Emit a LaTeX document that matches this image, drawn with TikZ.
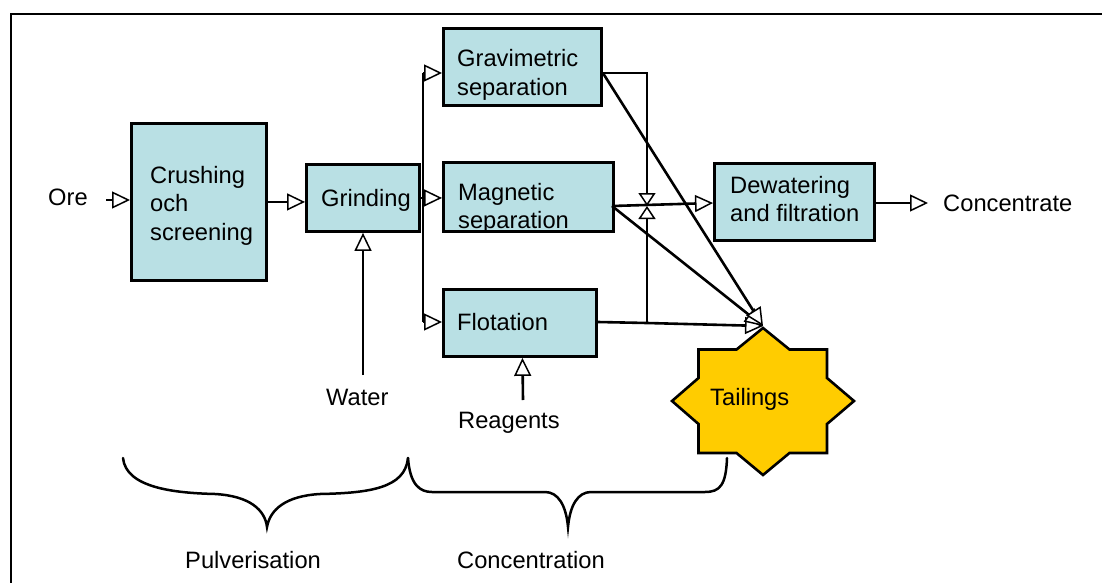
\documentclass[tikz,border=0pt]{standalone}
\usepackage{fontspec}
\setmainfont{Liberation Sans}
\usetikzlibrary{arrows.meta}
\definecolor{boxfill}{RGB}{185,224,228}
\definecolor{tailfill}{RGB}{255,204,0}
\newcommand\stackedlines[1]{\begin{tabular}[t]{@{}l@{}}#1\end{tabular}}
\begin{document}
\begin{tikzpicture}[x=1pt,y=-1pt,
  every node/.style={font=\fontsize{23.7}{28.8}\selectfont, inner sep=0pt},
  stage/.style={draw, line width=2.9pt, fill=boxfill, anchor=north west},
  txt/.style={anchor=base west},
  conn/.style={line width=2.6pt},
  arr/.style={conn, -{Triangle[fill=white, length=18pt, width=17pt, line width=1.5pt]}},
  arrsmall/.style={conn, -{Triangle[fill=white, length=13pt, width=17pt, line width=1.5pt]}},
  brace/.style={line width=2.5pt, line cap=round}]
\useasboundingbox (0,0) rectangle (1102,583);

% outer frame
\draw[line width=2.6pt] (11,583) -- (11,14) -- (1102,14);

% process stages
\node[stage, minimum width=135pt, minimum height=157pt] (crush) at (130,122) {};
\node[stage, minimum width=113pt, minimum height=67pt] (grind) at (305,163) {};
\node[stage, minimum width=158pt, minimum height=77pt] (grav) at (442,27) {};
\node[stage, minimum width=170pt, minimum height=69pt] (mag) at (442,161) {};
\node[stage, minimum width=153pt, minimum height=67pt] (flot) at (442,288) {};
\node[stage, minimum width=160pt, minimum height=77pt] (dew) at (713,162) {};

% stage labels
\node[txt] (crushtxt) at (150,183) {\stackedlines{Crushing\\och\\screening}};
\node[txt] (grindtxt) at (321,206) {Grinding};
\node[txt] (gravtxt) at (457,67) {\stackedlines{Gravimetric\\separation}};
\node[txt] (magtxt) at (458,200) {\stackedlines{Magnetic\\separation}};
\node[txt] (flottxt) at (457,330) {Flotation};
\node[txt] (dewtxt) at (730,193) {\stackedlines{Dewatering\\and filtration}};

% inputs and outputs
\node[txt] (ore) at (48,205) {Ore};
\node[txt] (water) at (326,405) {Water};
\node[txt] (reag) at (458,428) {Reagents};
\node[txt] (conc) at (943,211) {Concentrate};

% tailings star (square overlaid on a diamond)
\draw[line width=2.6pt, fill=tailfill, line join=miter]
  (763,328) -- (789.5,349.5) -- (827,349.5) -- (827,378) -- (854,401)
  -- (827,424) -- (827,453) -- (789.5,453) -- (763,475) -- (736.5,453)
  -- (698.5,453) -- (698.5,424) -- (672,401) -- (698.5,378) -- (698.5,349.5)
  -- (736.5,349.5) -- cycle;
\node[txt] (tailings) at (710,405) {Tailings};

% junction points
\coordinate (orein) at (106,200);
\coordinate (splitT) at (423,73);
\coordinate (splitB) at (423,322);
\coordinate (waterin) at (363,375);
\coordinate (reagin) at (523,400);
\coordinate (gcorner) at (647,73);
\coordinate (valve) at (647,206);
\coordinate (fjoin) at (647,323);
\coordinate (magout) at (612,206);
\coordinate (dewin) at (713,203);
\coordinate (dewout) at (873,203);
\coordinate (concin) at (928,203);
\coordinate (tailtop) at (763,326);

% feed line
\draw[arr] (orein) -- (crush.west |- orein);
\draw[arr] (crush.east) -- (grind.west |- crush.east);
\draw[arr] (waterin) -- (waterin |- grind.south);
\draw[arr] (reagin) -- ([xshift=2.5pt]flot.south);

% distribution from grinding
\draw[conn] (grind.east) -- (grind.east -| splitT);
\draw[conn] (splitT) -- (splitB);
\draw[arr] (splitT) -- (grav.west |- splitT);
\draw[arr] (grind.east -| splitT) -- (mag.west |- grind.east);
\draw[arr] (splitB) -- (flot.west |- splitB);

% recycle lines
\draw[arrsmall] (grav.east |- splitT) -- (gcorner) -- (valve);
\draw[arrsmall] (fjoin) -- (valve);

% concentrate line
\draw[arr] (magout) -- (dewin);
\draw[arr] (dewout) -- (concin);

% tailings lines
\draw[arr] (flot.east |- splitB) -- (fjoin) -- (tailtop);
\draw[arr] (magout) -- (tailtop);
\draw[arr] (grav.east |- splitT) -- (tailtop);

% stage groupings
\draw[brace] (123,458) .. controls (126,488) and (175,493) .. (215,494)
  .. controls (250,496) and (265,510) .. (267,527)
  .. controls (270,510) and (285,496) .. (320,494)
  .. controls (370,493) and (405,488) .. (408,458);
\draw[brace] (408,458) .. controls (410,485) and (420,492) .. (432,492)
  -- (545,492) .. controls (558,492) and (566,505) .. (568,527)
  .. controls (570,505) and (578,492) .. (591,492)
  -- (705,492) .. controls (720,492) and (726,485) .. (727,458);
\node[txt] (pulv) at (185,568) {Pulverisation};
\node[txt] (concn) at (457,568) {Concentration};
\end{tikzpicture}
\end{document}
